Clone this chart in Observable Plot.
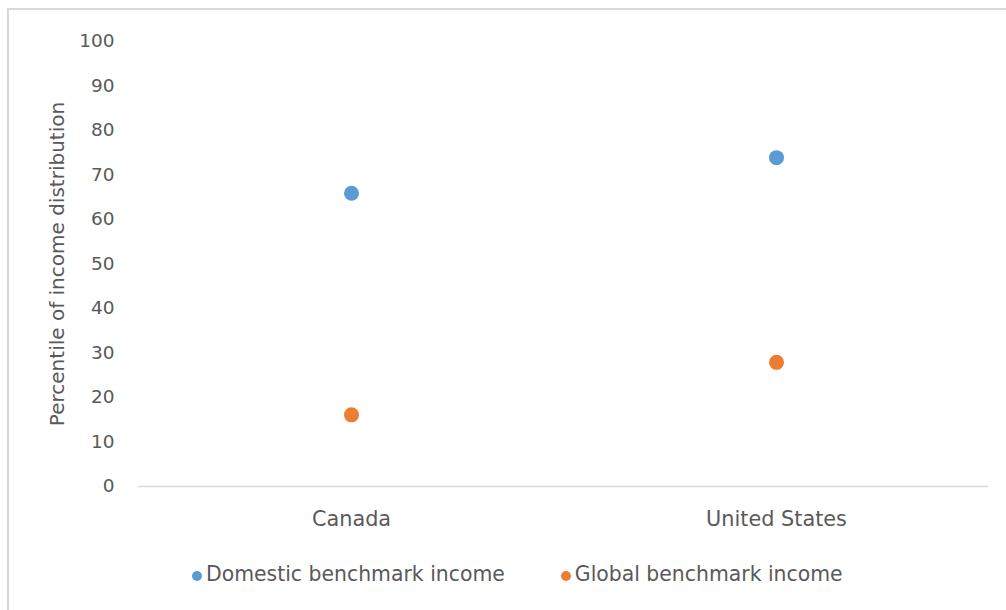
<!DOCTYPE html>
<html>
<head>
<meta charset="utf-8">
<script src="https://cdn.jsdelivr.net/npm/d3@7"></script>
<script src="https://cdn.jsdelivr.net/npm/@observablehq/plot@0.6"></script>
<style>
  html, body { margin: 0; padding: 0; background: #ffffff; }
  body { width: 1006px; height: 610px; position: relative; overflow: hidden; font-family: "DejaVu Sans", sans-serif; }
  #frame { position: absolute; left: 7px; top: 8px; width: 1100px; height: 700px; border-left: 2px solid #d9d9d9; border-top: 2px solid #d9d9d9; box-sizing: border-box; }
  #chart { position: absolute; left: 0; top: 0; }
  #legend { position: absolute; left: 192px; top: 562px; display: flex; align-items: center; color: #595959; font-size: 20.4px; }
  .item { display: flex; align-items: center; margin-right: 56px; }
  .swatch { width: 10px; height: 10px; border-radius: 50%; margin-right: 4px; margin-top: 4px; }
</style>
</head>
<body>
<div id="frame"></div>
<div id="chart"></div>
<div id="legend"></div>
<script>
// Countries on the x axis
const countries = ["Canada", "United States"];
// The two benchmark series
const seriesNames = ["Domestic benchmark income", "Global benchmark income"];
// Percentile of the national income distribution reached by each benchmark
const domesticPct = [65.9, 73.9];
const globalPct = [16.1, 27.9];
const seriesColors = ["#5B9BD5", "#ED7D31"];
const yTicks = [0, 10, 20, 30, 40, 50, 60, 70, 80, 90, 100];

const rows = [];
countries.forEach((c, i) => {
  rows.push({country: c, series: seriesNames[0], value: domesticPct[i]});
  rows.push({country: c, series: seriesNames[1], value: globalPct[i]});
});

const chart = Plot.plot({
  width: 1006,
  height: 545,
  marginLeft: 138,
  marginRight: 18,
  marginTop: 41,
  marginBottom: 59,
  x: {type: "point", domain: countries, padding: 0.5},
  y: {domain: [0, 100]},
  color: {domain: seriesNames, range: seriesColors},
  style: {fontFamily: "DejaVu Sans", fontSize: "18px", color: "#595959", background: "transparent"},
  marks: [
    Plot.axisY({
      ticks: yTicks, tickSize: 0, tickPadding: 24, fontSize: 18.5,
      label: "Percentile of income distribution", labelAnchor: "center",
      labelArrow: "none", labelOffset: 89
    }),
    Plot.axisX({tickSize: 0, tickPadding: 25, fontSize: 20.8, label: null}),
    Plot.ruleY([0], {stroke: "#d9d9d9", strokeWidth: 1.5}),
    Plot.dot(rows, {x: "country", y: "value", fill: "series", r: 7.5})
  ]
});
// Larger axis title than the tick labels
d3.select(chart).selectAll("[aria-label='y-axis label'] text, g[aria-label='y-axis label']").attr("font-size", 20);
document.getElementById("chart").appendChild(chart);

// Legend below the plot
const legend = d3.select("#legend");
seriesNames.forEach((name, i) => {
  const item = legend.append("div").attr("class", "item");
  item.append("span").attr("class", "swatch").style("background", seriesColors[i]);
  item.append("span").text(name);
});
</script>
</body>
</html>
